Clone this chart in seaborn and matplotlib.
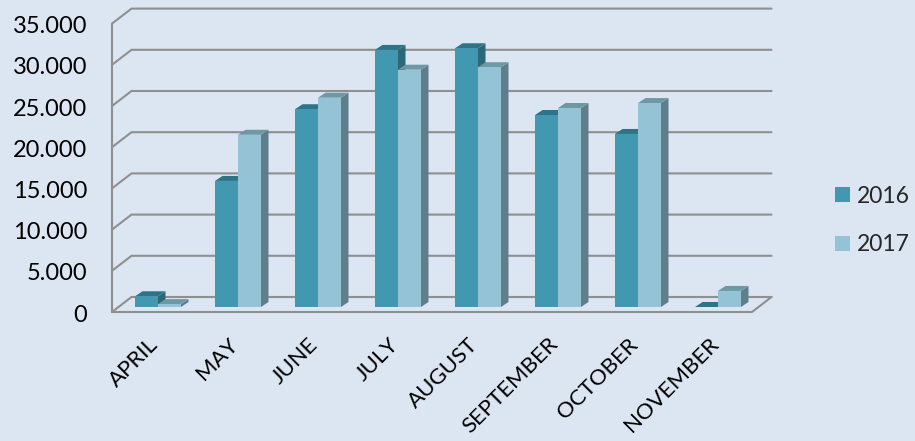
import matplotlib
matplotlib.use('Agg')
import matplotlib.pyplot as plt
import pandas as pd
import seaborn as sns
from matplotlib.patches import Polygon
from matplotlib.transforms import ScaledTranslation

months = ['APRIL', 'MAY', 'JUNE', 'JULY', 'AUGUST', 'SEPTEMBER', 'OCTOBER', 'NOVEMBER']
values_2016 = [1300, 15300, 24000, 31200, 31400, 23300, 21000, 0]
values_2017 = [350, 20900, 25400, 28800, 29100, 24150, 24750, 1950]
y_ticks = [0, 5000, 10000, 15000, 20000, 25000, 30000, 35000]
y_labels = ['0', '5.000', '10.000', '15.000', '20.000', '25.000', '30.000', '35.000']

bg = '#DCE6F2'
grid_col = '#8F8F8F'
front_cols = ['#4198B0', '#93C3D5']
top_cols = ['#2F7386', '#6F98A5']
side_cols = ['#2B6878', '#5F7E8B']

sns.set_theme(style='white')
plt.rcParams['font.family'] = ['Lato', 'DejaVu Sans']

df = pd.DataFrame({'month': months * 2,
                   'value': values_2016 + values_2017,
                   'year': ['2016'] * 8 + ['2017'] * 8})

W, H = 915, 441
fig = plt.figure(figsize=(W / 100, H / 100), dpi=100, facecolor=bg)

# one category = 80 px, 5000 = 41.2 px
px_x = 1 / 80
px_y = 5000 / 41.2
floor_front = -5 * px_y
ax = fig.add_axes([118 / W, (H - 312) / H, 640 / W, 288.4 / H])
ax.set_facecolor('none')

sns.barplot(data=df, x='month', y='value', hue='year', palette=front_cols,
            width=0.575, gap=0, saturation=1, ax=ax, zorder=3, linewidth=0)

# back wall and floor offsets, data units
wall_dx = 19.5 * px_x
wall_dy = 15 * px_y
left = -0.5 - 6 * px_x
right = 7.5 - 6 * px_x
for v in y_ticks:
    y0 = v + floor_front
    ax.plot([left, left + wall_dx, right + wall_dx], [y0, y0 + wall_dy, y0 + wall_dy],
            color=grid_col, lw=1.5, zorder=1, clip_on=False, solid_joinstyle='miter')
ax.plot([left, left], [floor_front, 35000 + floor_front], color=grid_col, lw=1.5, zorder=1, clip_on=False)
ax.plot([left, right, right + wall_dx], [floor_front, floor_front, floor_front + wall_dy],
        color=grid_col, lw=1.5, zorder=1, clip_on=False, solid_joinstyle='miter')

# depth faces of the bars
dx = 7.5 * px_x
dy = 5 * px_y
for i, cont in enumerate(ax.containers):
    for r in cont:
        x0, w, h = r.get_x(), r.get_width(), r.get_height()
        x1 = x0 + w
        ax.add_patch(Polygon([(x1, 0), (x1 + dx, dy), (x1 + dx, h + dy), (x1, h)],
                             fc=side_cols[i], ec='none', zorder=2, clip_on=False))
        ax.add_patch(Polygon([(x0, h), (x1, h), (x1 + dx, h + dy), (x0 + dx, h + dy)],
                             fc=top_cols[i], ec='none', zorder=2, clip_on=False))

ax.set_xlim(-0.5, 7.5)
ax.set_ylim(floor_front, 35000 + floor_front)
ax.set_yticks([v + floor_front for v in y_ticks])
ax.set_yticklabels(y_labels, fontsize=17, color='black')
ax.set_xticks(range(len(months)))
ax.set_xticklabels(months, fontsize=16, color='black', rotation=45, ha='right', rotation_mode='anchor')
ax.tick_params(axis='y', length=0, pad=22)
ax.tick_params(axis='x', length=0, pad=16)
# labels end under the category centre
shift = ScaledTranslation(-10 / 100, 0, fig.dpi_scale_trans)
for lab in ax.get_xticklabels():
    lab.set_transform(lab.get_transform() + shift)
shift_y = ScaledTranslation(0, -1 / 100, fig.dpi_scale_trans)
for lab in ax.get_yticklabels():
    lab.set_transform(lab.get_transform() + shift_y)
ax.set_xlabel('')
ax.set_ylabel('')
sns.despine(ax=ax, left=True, bottom=True)

handles, labels = ax.get_legend_handles_labels()
ax.legend(handles, labels, loc='center left', bbox_to_anchor=(835 / W, (H - 220.5) / H),
          bbox_transform=fig.transFigure, frameon=False, fontsize=16.5,
          handlelength=0.65, handleheight=0.65, handletextpad=0.3, labelspacing=1.2,
          borderpad=0, borderaxespad=0)

fig.savefig('out.png', dpi=100, facecolor=bg)
